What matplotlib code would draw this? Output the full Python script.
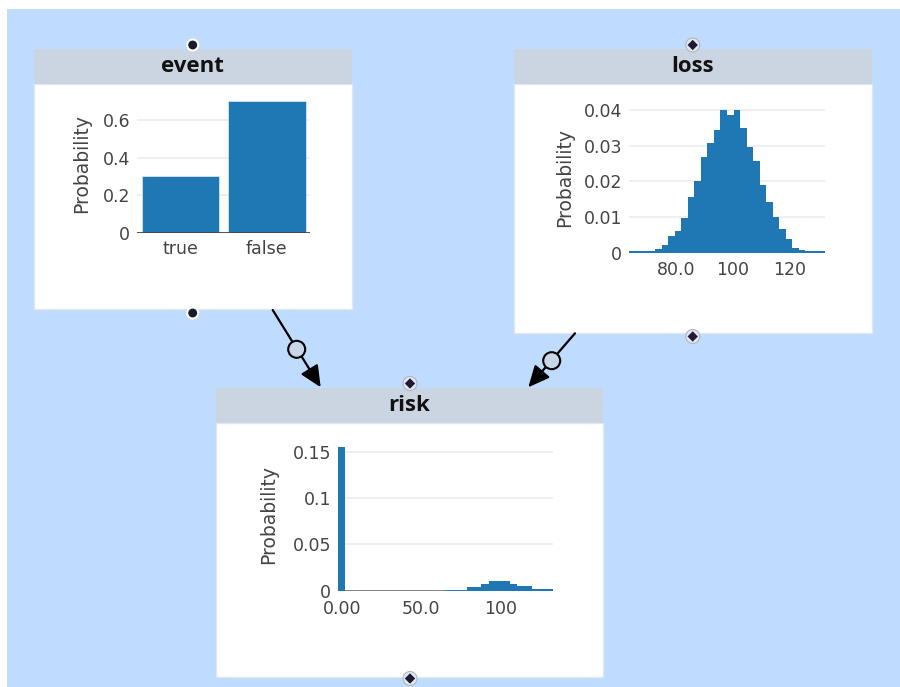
import matplotlib
matplotlib.use("Agg")
import matplotlib.pyplot as plt
from matplotlib.patches import Rectangle, Circle, RegularPolygon, FancyArrowPatch

plt.rcParams["font.family"] = ["DejaVu Sans"]

# --- data ---
event_states = ["true", "false"]
event_prob = [0.30, 0.70]
event_yticks = [0, 0.2, 0.4, 0.6]
event_yticklabels = ["0", "0.2", "0.4", "0.6"]

loss_centers = [64.55, 66.85, 69.15, 71.45, 73.75, 76.05, 78.35, 80.65, 82.95, 85.25,
                87.55, 89.85, 92.15, 94.45, 96.75, 99.05, 101.35, 103.65, 105.95, 108.25,
                110.55, 112.85, 115.15, 117.45, 119.75, 122.05, 124.35, 126.65, 128.95, 131.25]
loss_density = [0.0004, 0.0004, 0.0005, 0.0005, 0.0010, 0.0022, 0.0047, 0.0062, 0.0098, 0.0155,
                0.0201, 0.0268, 0.0308, 0.0343, 0.0401, 0.0386, 0.0401, 0.0349, 0.0295, 0.0256,
                0.0189, 0.0141, 0.0099, 0.0067, 0.0039, 0.0013, 0.0007, 0.0004, 0.0004, 0.0004]
loss_bin_width = 2.3
loss_xticks = [80, 100, 120]
loss_xticklabels = ["80.0", "100", "120"]
loss_yticks = [0, 0.01, 0.02, 0.03, 0.04]
loss_yticklabels = ["0", "0.01", "0.02", "0.03", "0.04"]

risk_centers = [0, 4.5, 9, 13.5, 18, 22.5, 27, 31.5, 36, 40.5, 45, 49.5, 54, 58.5, 63,
                67.5, 72, 76.5, 81, 85.5, 90, 94.5, 99, 103.5, 108, 112.5, 117, 121.5, 126, 130.5]
risk_density = [0.156, 0, 0, 0, 0, 0, 0, 0, 0, 0, 0, 0, 0, 0, 0,
                0.0008, 0.0010, 0.0012, 0.0040, 0.0040, 0.0075, 0.0100, 0.0110, 0.0100, 0.0075,
                0.0047, 0.0047, 0.0018, 0.0018, 0.0018]
risk_bin_width = 4.5
risk_xticks = [0, 50, 100]
risk_xticklabels = ["0.00", "50.0", "100"]
risk_yticks = [0, 0.05, 0.1, 0.15]
risk_yticklabels = ["0", "0.05", "0.1", "0.15"]

BAR = "#1f77b4"
TXT = "#444444"
W, H = 900, 687


def px_axes(fig, left, top, right, bottom):
    return fig.add_axes([left / W, 1 - bottom / H, (right - left) / W, (bottom - top) / H])


def style_axes(ax, zero_color, xpad=4, zero_lw=2, zero_on_top=False):
    for s in ax.spines.values():
        s.set_visible(False)
    ax.set_facecolor("none")
    ax.tick_params(length=0, labelsize=12.5, labelcolor=TXT)
    ax.tick_params(axis="y", pad=5)
    ax.tick_params(axis="x", pad=xpad)
    ax.yaxis.grid(True, color="#eeeeee", lw=1.3)
    ax.set_axisbelow(True)
    ax.axhline(0, color=zero_color, lw=zero_lw, zorder=3 if zero_on_top else 1.5)


def ylabel(ax, xfrac):
    ax.set_ylabel("Probability", fontsize=13.5, color=TXT)
    ax.yaxis.set_label_coords(xfrac, 0.5)
    ax.yaxis.label.set_va("center")


def panel(bg, left, top, right, header_bottom, bottom, title):
    bg.add_patch(Rectangle((left, header_bottom), right - left, bottom - header_bottom,
                           facecolor="white", edgecolor="#e2e8f0", lw=1, zorder=1))
    bg.add_patch(Rectangle((left, top), right - left, header_bottom - top,
                           facecolor="#cbd5e1", edgecolor="none", zorder=1))
    bg.text((left + right) / 2, (top + header_bottom) / 2, title, ha="center", va="center",
            fontsize=16, fontweight="bold", color="#111111",
            family=["Open Sans", "DejaVu Sans"], zorder=2)


def plain_dot(bg, x, y):
    bg.add_patch(Circle((x, y), 5.5, facecolor="#1a1a2e", edgecolor="white", lw=1.5, zorder=4))


def diamond_dot(bg, x, y):
    bg.add_patch(Circle((x, y), 7, facecolor="#e5e7eb", edgecolor="#b0b6c0", lw=0.8, zorder=4))
    bg.add_patch(RegularPolygon((x, y), 4, radius=5.2, facecolor="#1e1b3a",
                                edgecolor="none", zorder=5))


def link(bg, start, mid, end):
    bg.add_patch(FancyArrowPatch(start, end, arrowstyle="-|>,head_length=0.65,head_width=0.3",
                                 mutation_scale=20, color="black", lw=1.6,
                                 shrinkA=0, shrinkB=0, zorder=3))
    bg.add_patch(Circle(mid, 8.5, facecolor="#c9d6e8", edgecolor="black", lw=1.5, zorder=4))


fig = plt.figure(figsize=(9, 6.87), dpi=100, facecolor="white")

bg = fig.add_axes([0, 0, 1, 1])
bg.set_xlim(0, W)
bg.set_ylim(H, 0)
bg.axis("off")
bg.add_patch(Rectangle((7, 9), W - 7, H - 9, facecolor="#bfdbfe", edgecolor="none", zorder=0))

panel(bg, 33.5, 49, 351.5, 84.3, 309.3, "event")
panel(bg, 513.5, 49, 871.5, 84.3, 333.3, "loss")
panel(bg, 216, 387.5, 602.5, 423.3, 677.3, "risk")

link(bg, (272.7, 310), (296.7, 349.3), (320.7, 387.3))
link(bg, (575, 333.3), (551.7, 360.7), (528.3, 387.3))

plain_dot(bg, 192.7, 45)
plain_dot(bg, 192.7, 313)
diamond_dot(bg, 692.7, 45)
diamond_dot(bg, 692.7, 336.5)
diamond_dot(bg, 410, 383.5)
diamond_dot(bg, 410, 678.5)

# event: categorical bar chart
ax1 = px_axes(fig, 137.3, 94.3, 310, 232.7)
style_axes(ax1, "#444444", xpad=5, zero_on_top=True)
ax1.bar(range(len(event_states)), event_prob, width=0.9, color=BAR,
        edgecolor="#d6e4f0", lw=0.6, zorder=2)
ax1.set_xlim(-0.5, len(event_states) - 0.5)
ax1.set_ylim(0, 0.7368)
ax1.set_xticks(range(len(event_states)))
ax1.set_xticklabels(event_states)
ax1.set_yticks(event_yticks)
ax1.set_yticklabels(event_yticklabels)
ylabel(ax1, -0.32)

# loss: histogram
ax2 = px_axes(fig, 629, 102, 825, 252.8)
style_axes(ax2, "#444444", xpad=6, zero_lw=1.6)
ax2.bar(loss_centers, loss_density, width=loss_bin_width, color=BAR, lw=0, zorder=2)
ax2.set_xlim(loss_centers[0] - loss_bin_width / 2, loss_centers[-1] + loss_bin_width / 2)
ax2.set_ylim(0, 0.0422)
ax2.set_xticks(loss_xticks)
ax2.set_xticklabels(loss_xticklabels)
ax2.set_yticks(loss_yticks)
ax2.set_yticklabels(loss_yticklabels)
ylabel(ax2, -0.327)

# risk: histogram
ax3 = px_axes(fig, 338.3, 439.3, 553, 590.7)
style_axes(ax3, "#808080", xpad=7, zero_lw=1.4)
ax3.bar(risk_centers, risk_density, width=risk_bin_width, color=BAR, lw=0, zorder=2)
ax3.set_xlim(risk_centers[0] - risk_bin_width / 2, risk_centers[-1] + risk_bin_width / 2)
ax3.set_ylim(0, 0.1638)
ax3.set_xticks(risk_xticks)
ax3.set_xticklabels(risk_xticklabels)
ax3.set_yticks(risk_yticks)
ax3.set_yticklabels(risk_yticklabels)
ylabel(ax3, -0.324)

fig.savefig("out.png", dpi=100, facecolor="white")
